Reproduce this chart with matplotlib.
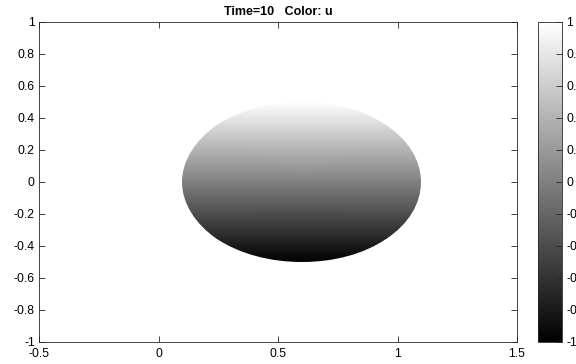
import matplotlib
matplotlib.use("Agg")
import matplotlib.pyplot as plt
import numpy as np
from matplotlib.patches import Ellipse

plt.rcParams['font.family'] = ['Liberation Sans', 'DejaVu Sans']
plt.rcParams['axes.unicode_minus'] = False

# Data
title = "Time=10   Color: u"
center = (0.6, 0.0)
radius_x = 0.5
radius_y = 0.5
u_bottom = -1.0
u_top = 1.0
clim = (-1.0, 1.0)
xticks = [-0.5, 0, 0.5, 1, 1.5]
xticklabels = ["-0.5", "0", "0.5", "1", "1.5"]
yticks = [-1, -0.8, -0.6, -0.4, -0.2, 0, 0.2, 0.4, 0.6, 0.8, 1]
yticklabels = ["-1", "-0.8", "-0.6", "-0.4", "-0.2", "0", "0.2", "0.4", "0.6", "0.8", "1"]
cbticks = yticks
cbticklabels = yticklabels

W, H = 576, 364
fig = plt.figure(figsize=(W / 100, H / 100), dpi=100)
ax = fig.add_axes([39 / W, 1 - 342 / H, (517 - 39) / W, (342 - 22) / H])
cax = fig.add_axes([538 / W, 1 - 342 / H, (562 - 538) / W, (342 - 22) / H])

edge = '#262626'
xs = [center[0] - radius_x, center[0] + radius_x]
ys = [center[1] - radius_y, center[1] + radius_y]
X, Y = np.meshgrid(xs, ys)
C = np.array([[u_bottom, u_bottom], [u_top, u_top]])
mesh = ax.pcolormesh(X, Y, C, shading='gouraud', cmap='gray', vmin=clim[0], vmax=clim[1])
ell = Ellipse(center, 2 * radius_x, 2 * radius_y, facecolor='none', edgecolor='none')
ax.add_patch(ell)
mesh.set_clip_path(ell)

ax.set_xlim(-0.5, 1.5)
ax.set_ylim(-1, 1)
ax.set_xticks(xticks)
ax.set_xticklabels(xticklabels)
ax.set_yticks(yticks)
ax.set_yticklabels(yticklabels)
ax.tick_params(direction='in', top=True, right=True, length=4, width=0.6,
               colors=edge, labelsize=8.8, labelcolor='black', pad=3)
ax.tick_params(axis='x', pad=4)
for s in ax.spines.values():
    s.set_color(edge)
    s.set_linewidth(0.6)
ax.set_title(title, fontsize=9, fontweight='bold', pad=5)

cb = fig.colorbar(mesh, cax=cax)
cb.set_ticks(cbticks)
cb.set_ticklabels(cbticklabels)
cax.tick_params(direction='in', length=4, width=0.6, colors=edge, labelsize=8.8,
                labelcolor='black', pad=3)
cb.outline.set_edgecolor(edge)
cb.outline.set_linewidth(0.6)

fig.savefig("out.png", dpi=100)
